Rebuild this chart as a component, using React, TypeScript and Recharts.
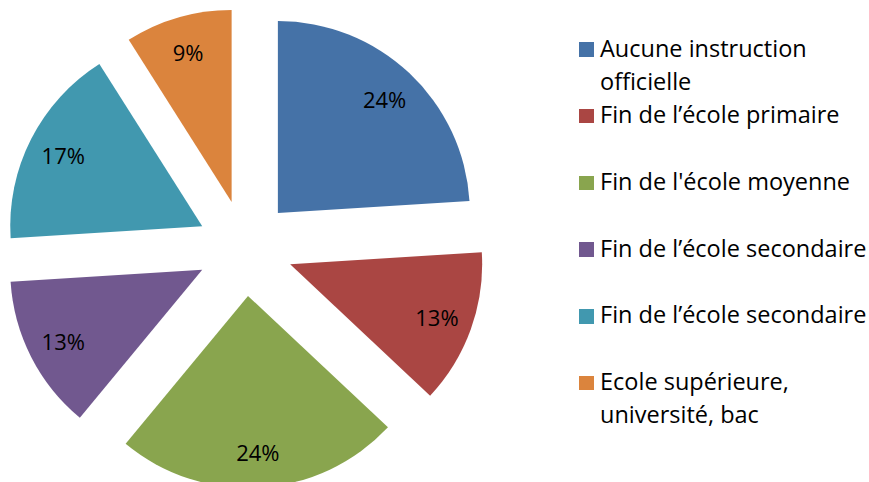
import { PieChart, Pie, Cell, Legend } from 'recharts';

// education level shares, slices clockwise from 12 o'clock
const categories = [
    'Aucune instruction officielle',
    'Fin de l’école primaire',
    "Fin de l'école moyenne",
    'Fin de l’école secondaire',
    'Fin de l’école secondaire',
    'Ecole supérieure, université, bac',
];
const legendLines = [
    ['Aucune instruction', 'officielle'],
    ['Fin de l’école primaire'],
    ["Fin de l'école moyenne"],
    ['Fin de l’école secondaire'],
    ['Fin de l’école secondaire'],
    ['Ecole supérieure,', 'université, bac'],
];
const shares = [24, 13, 24, 13, 17, 9];
const colors = ['#4572A7', '#AA4643', '#89A54E', '#71588F', '#4198AF', '#DB843D'];

const CX = 245;
const CY = 248;
const RADIUS = 192;
const EXPLODE = 48;
const LABEL_RADIUS = 156;
const RAD = Math.PI / 180;
const FONT = '"Open Sans", Lato, sans-serif';

const data = categories.map((name, i) => ({ name, value: shares[i] }));
const total = shares.reduce((a, b) => a + b, 0);

// clockwise angle (deg from top) of the middle of each slice
const midAngles = shares.map((v, i) => {
    const before = shares.slice(0, i).reduce((a, b) => a + b, 0);
    return (360 * (before + v / 2)) / total;
});

const makeLabel = (only: number) => (props: any) => {
    if (props.index !== only) return null;
    const x = props.cx + LABEL_RADIUS * Math.cos(-props.midAngle * RAD);
    const y = props.cy + LABEL_RADIUS * Math.sin(-props.midAngle * RAD);
    return (
        <text
            x={x}
            y={y}
            textAnchor="middle"
            dominantBaseline="central"
            fill="#000"
            fontSize={22}
            fontFamily={FONT}
        >
            {`${Math.round(props.percent * 100)}%`}
        </text>
    );
};

function LegendContent() {
    return (
        <div style={{ fontFamily: FONT, fontSize: 23.5, color: '#000' }}>
            {legendLines.map((lines, i) => (
                <div key={i} style={{ position: 'relative', height: 66.7 }}>
                    <div
                        style={{
                            position: 'absolute',
                            left: 0,
                            top: 10.8,
                            width: 14.5,
                            height: 14.5,
                            background: colors[i],
                        }}
                    />
                    <div style={{ position: 'absolute', left: 21, top: 0, lineHeight: '33.3px', whiteSpace: 'nowrap' }}>
                        {lines.map((l, k) => (
                            <div key={k}>{l}</div>
                        ))}
                    </div>
                </div>
            ))}
        </div>
    );
}

export default function App() {
    return (
        <div style={{ position: 'absolute', left: 0, top: 0, background: '#fff' }}>
            <PieChart width={869} height={482} margin={{ top: 0, right: 0, bottom: 0, left: 0 }}>
                {shares.map((_, i) => (
                    <Pie
                        key={i}
                        data={data}
                        dataKey="value"
                        nameKey="name"
                        cx={CX + EXPLODE * Math.sin(midAngles[i] * RAD)}
                        cy={CY - EXPLODE * Math.cos(midAngles[i] * RAD)}
                        outerRadius={RADIUS}
                        startAngle={90}
                        endAngle={-270}
                        stroke="none"
                        label={makeLabel(i)}
                        labelLine={false}
                        isAnimationActive={false}
                    >
                        {data.map((_, j) => (
                            <Cell key={j} fill={j === i ? colors[j] : 'none'} />
                        ))}
                    </Pie>
                ))}
                <Legend
                    layout="vertical"
                    align="right"
                    verticalAlign="top"
                    content={LegendContent}
                    wrapperStyle={{ left: 579, top: 31.5, width: 290 }}
                />
            </PieChart>
        </div>
    );
}
